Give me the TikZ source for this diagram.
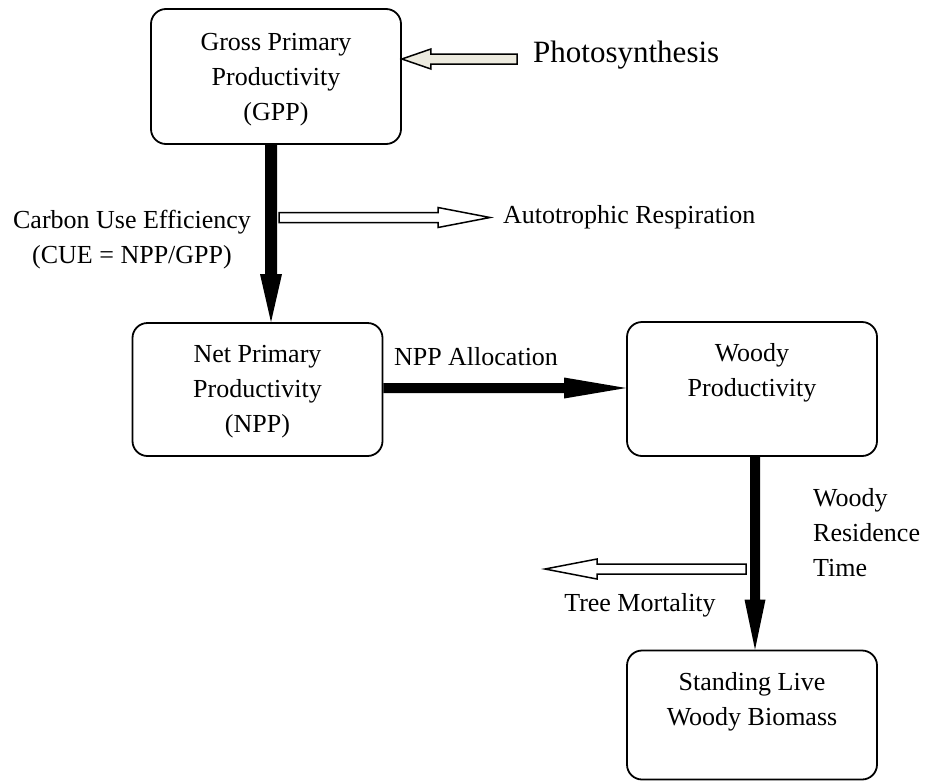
\documentclass[tikz,border=0pt]{standalone}
\usepackage{fontspec}
\setmainfont{Liberation Serif}
\usetikzlibrary{calc}
\definecolor{beige}{RGB}{236,234,222}
\newcommand\darr[6]{\path[#1] let \p1=(#2),\p2=(#3) in (\x1-#4,\y1) -- (\x1+#4,\y1) -- (\x1+#4,\y2+#6) -- (\x1+#5,\y2+#6) -- (\x1,\y2) -- (\x1-#5,\y2+#6) -- (\x1-#4,\y2+#6) -- cycle;}
\newcommand\rarr[6]{\path[#1] let \p1=(#2),\p2=(#3) in (\x1,\y1+#4) -- (\x2-#6,\y1+#4) -- (\x2-#6,\y1+#5) -- (\x2,\y1) -- (\x2-#6,\y1-#5) -- (\x2-#6,\y1-#4) -- (\x1,\y1-#4) -- cycle;}
\newcommand\larr[6]{\path[#1] let \p1=(#2),\p2=(#3) in (\x1,\y1+#4) -- (\x2+#6,\y1+#4) -- (\x2+#6,\y1+#5) -- (\x2,\y1) -- (\x2+#6,\y1-#5) -- (\x2+#6,\y1-#4) -- (\x1,\y1-#4) -- cycle;}
\begin{document}
\begin{tikzpicture}[x=1pt,y=-1pt,
  box/.style={draw, line width=1.8pt, rounded corners=15pt, minimum width=250pt,
    align=center, inner sep=0pt, font=\fontsize{26}{35}\selectfont},
  lbl/.style={inner sep=0pt, font=\fontsize{26}{35}\selectfont},
  solidarrow/.style={fill=black},
  hollow/.style={draw=black, line width=1.5pt, fill=white, line join=miter},
  hollowbeige/.style={draw=black, line width=1.5pt, fill=beige, line join=miter}]
\useasboundingbox (0,0) rectangle (925,782);
% boxes
\node[box, minimum height=135pt] (gpp) at (276,76.5) {\strut Gross Primary\\Productivity\\(GPP)};
\node[box, minimum height=133pt] (npp) at (257.5,389.5) {\rule{0pt}{22pt}Net Primary\\Productivity\\(NPP)};
\node[box, minimum height=134pt] (woody) at (752,389) {\rule{0pt}{26pt}Woody\\Productivity\\\strut};
\node[box, minimum height=129pt] (stand) at (752,715) {\rule{0pt}{31pt}Standing Live\\Woody Biomass\\\strut};
% labels
\node[inner sep=0pt, anchor=west, font=\fontsize{31}{37}\selectfont] (photo) at (533,55) {Photosynthesis};
\node[lbl, align=center] (cue) at (132,240) {Carbon Use Efficiency\\(CUE = NPP/GPP)};
\node[lbl, anchor=west] (auto) at (503,217) {Autotrophic Respiration};
\node[lbl] (alloc) at (476,357) {NPP Allocation};
\node[lbl, anchor=west, align=left] (wrt) at (813,533) {Woody\\Residence\\Time};
\node[lbl] (tm) at (640,605) {Tree Mortality};
% free ends of the block arrows
\coordinate (phtail) at (517,59);
\coordinate (phtip) at (gpp.east |- phtail);
\coordinate (autail) at (279,217.5);
\coordinate (autip) at (490,217.5);
\coordinate (tmtail) at (746,569);
\coordinate (tmtip) at (545,569);
% solid flow arrows
\darr{solidarrow}{[xshift=-5pt]gpp.south}{[xshift=13.5pt]npp.north}{6pt}{11pt}{48pt}
\rarr{solidarrow}{[yshift=1.5pt]npp.east}{[yshift=1pt]woody.west}{5pt}{10.5pt}{62pt}
\darr{solidarrow}{[xshift=3pt]woody.south}{[xshift=3pt]stand.north}{5pt}{10.5pt}{50pt}
% hollow arrows
\larr{hollowbeige}{phtail}{phtip}{5pt}{10pt}{29pt}
\rarr{hollow}{autail}{autip}{5pt}{10pt}{52pt}
\larr{hollow}{tmtail}{tmtip}{5pt}{10pt}{52pt}
\end{tikzpicture}
\end{document}
